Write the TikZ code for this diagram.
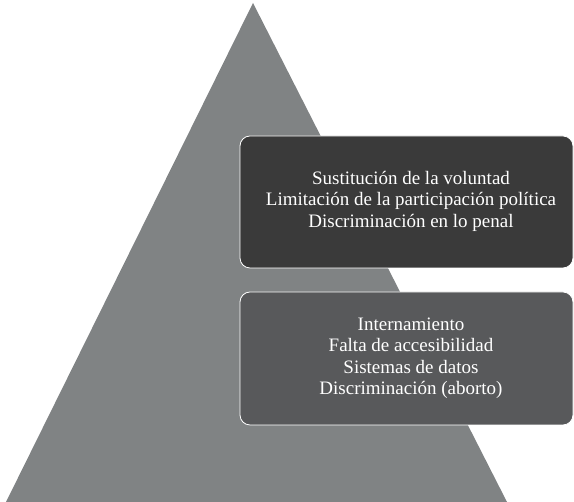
\documentclass[tikz,border=0pt]{standalone}
\usepackage{fontspec}
\setmainfont{Liberation Serif}
\definecolor{pyrgray}{HTML}{808384}
\definecolor{topbox}{HTML}{3A3A3A}
\definecolor{lowbox}{HTML}{58595B}
\tikzset{
    levelbox/.style={draw=white, line width=.8pt, rounded corners=10pt},
    leveltext/.style={text=white, align=center, font=\fontsize{19}{21.5}\selectfont}
}
\begin{document}
\begin{tikzpicture}[x=1pt, y=1pt]
\useasboundingbox (0,0) rectangle (574,502);
\fill[pyrgray](6,0)--(253,499)--(507,0)--cycle;
% niveles
\draw[levelbox, fill=topbox](240,234) rectangle (573,366);
\draw[levelbox, fill=lowbox](240,77) rectangle (573,210);
\node[leveltext] (alto) at (411,301) {Sustitución de la voluntad\\Limitación de la participación política\\Discriminación en lo penal};
\node[leveltext] (bajo) at (411,144) {Internamiento\\Falta de accesibilidad\\Sistemas de datos\\Discriminación (aborto)};
\end{tikzpicture}
\end{document}
